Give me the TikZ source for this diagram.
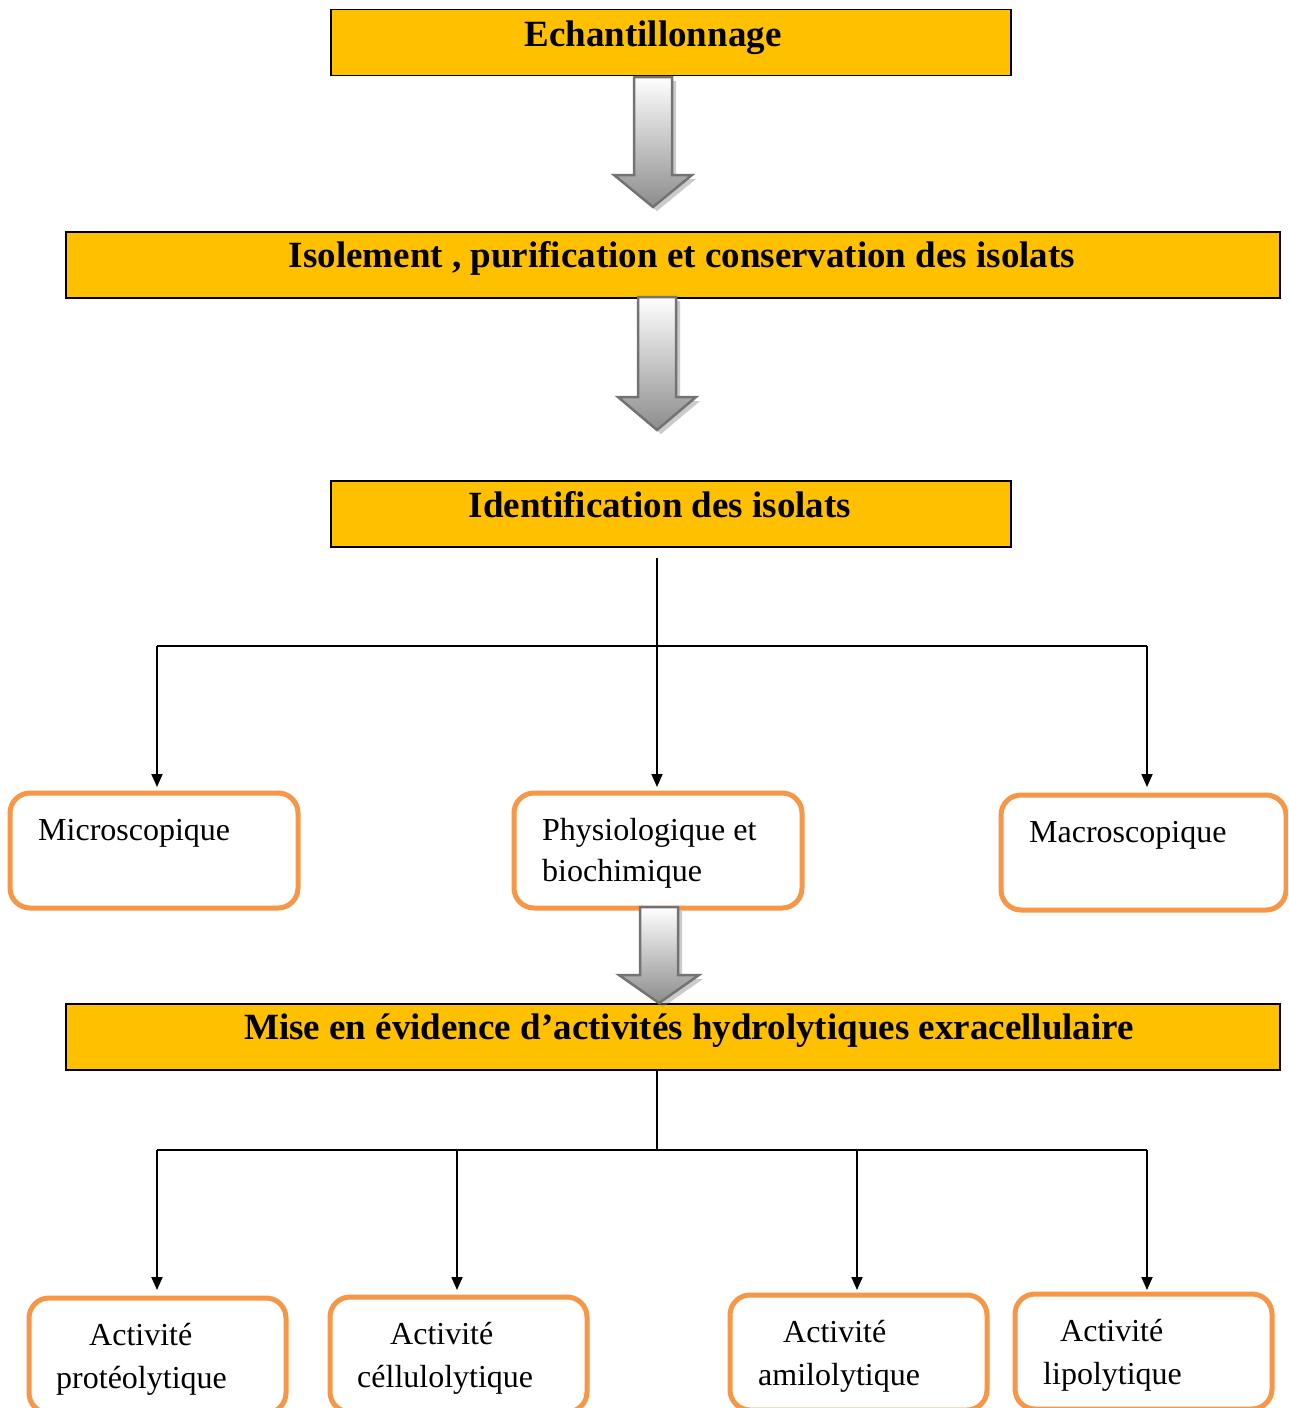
\documentclass[tikz,border=0pt]{standalone}
\usepackage{fontspec}
\setmainfont{Liberation Serif}
\usetikzlibrary{arrows.meta,calc}
\definecolor{gold}{HTML}{FFC000}
\definecolor{orng}{HTML}{F79646}
\newcommand{\blkarrow}[6]{%
 \begin{scope}[shift={(#1,0)}]
  \fill[black!45,opacity=.45,shift={(4,4)}] (-#2,#3) -- (#2,#3) -- (#2,#4) -- (#5,#4) -- (0,#6) -- (-#5,#4) -- (-#2,#4) -- cycle;
  \draw[draw=black!55,line width=2.5,line join=miter,top color=white,bottom color=black!45] (-#2,#3) -- (#2,#3) -- (#2,#4) -- (#5,#4) -- (0,#6) -- (-#5,#4) -- (-#2,#4) -- cycle;
 \end{scope}}
\begin{document}
\begin{tikzpicture}[x=1pt,y=-1pt,
  ybox/.style={draw=black,line width=1.8,fill=gold,minimum height=66,inner sep=0,outer sep=0},
  obox/.style={draw=orng,line width=5,fill=white,rounded corners=20,minimum width=288,minimum height=115,inner sep=0},
  lbox/.style={draw=orng,line width=5,fill=white,rounded corners=20,minimum width=257,minimum height=115,inner sep=0},
  ttl/.style={font=\fontsize{37}{44}\selectfont\bfseries,anchor=base,inner sep=0},
  txt/.style={font=\fontsize{32}{40}\selectfont,anchor=base west,inner sep=0},
  ln/.style={line width=1.8,draw=black},
  arr/.style={line width=1.8,draw=black,-{Triangle[width=11,length=13]}}]
\clip (0,0) rectangle (1288,1408);
\fill[white] (0,0) rectangle (1288,1408);
% yellow boxes
\node[ybox,minimum width=680] (b1) at (671,42.5) {};
\node[ttl] (t1) at (653,46) {Echantillonnage};
\node[ybox,minimum width=1214] (b2) at (673,265) {};
\node[ttl] (t2) at (682,267) {Isolement , purification et conservation des isolats};
\node[ybox,minimum width=680] (b3) at (671,514) {};
\node[ttl] (t3) at (660,517) {Identification des isolats};
\node[ybox,minimum width=1214] (b4) at (673,1037) {};
\node[ttl] (t4) at (689,1039) {Mise en évidence d’activités hydrolytiques exracellulaire};
% block arrows
\blkarrow{653}{19}{77}{175}{39}{207}
\blkarrow{657}{19}{297}{397}{39}{430}
% orange boxes
\node[obox] (m1) at (154,850.5) {};
\node[txt] at (38,840) {Microscopique};
\node[obox] (m2) at (658,850.5) {};
\node[txt] at (542,840) {Physiologique et};
\node[txt] at (542,881) {biochimique};
\node[obox,minimum width=285] (m3) at (1143.5,852.5) {};
\node[txt] at (1029,842) {Macroscopique};
\blkarrow{659}{19}{907}{975}{40}{1003}
% bottom boxes
\node[lbox] (p1) at (157.5,1355.5) {};
\node[txt] at (89,1345) {Activité};
\node[txt] at (56,1388) {protéolytique};
\node[lbox] (p2) at (458.5,1354.5) {};
\node[txt] at (390,1344) {Activité};
\node[txt] at (357,1387) {céllulolytique};
\node[lbox] (p3) at (858.5,1352.5) {};
\node[txt] at (783,1342) {Activité};
\node[txt] at (758,1385) {amilolytique};
\node[lbox] (p4) at (1143.5,1351.5) {};
\node[txt] at (1060,1341) {Activité};
\node[txt] at (1043,1384) {lipolytique};
% connectors
\coordinate (s1) at (657,558);
\coordinate (j1) at (657,646);
\coordinate (e1) at (157,787);
\coordinate (e2) at (657,787);
\coordinate (e3) at (1147,787);
\draw[ln] (s1) -- (j1);
\draw[ln] (e1 |- j1) -- (e3 |- j1);
\draw[arr] (e1 |- j1) -- (e1);
\draw[arr] (j1) -- (e2);
\draw[arr] (e3 |- j1) -- (e3);
\coordinate (j2) at (657,1150);
\coordinate (f1) at (157,1290);
\coordinate (f2) at (457,1290);
\coordinate (f3) at (857,1290);
\coordinate (f4) at (1147,1290);
\draw[ln] (b4.south -| j2) -- (j2);
\draw[ln] (f1 |- j2) -- (f4 |- j2);
\draw[arr] (f1 |- j2) -- (f1);
\draw[arr] (f2 |- j2) -- (f2);
\draw[arr] (f3 |- j2) -- (f3);
\draw[arr] (f4 |- j2) -- (f4);
\end{tikzpicture}
\end{document}
